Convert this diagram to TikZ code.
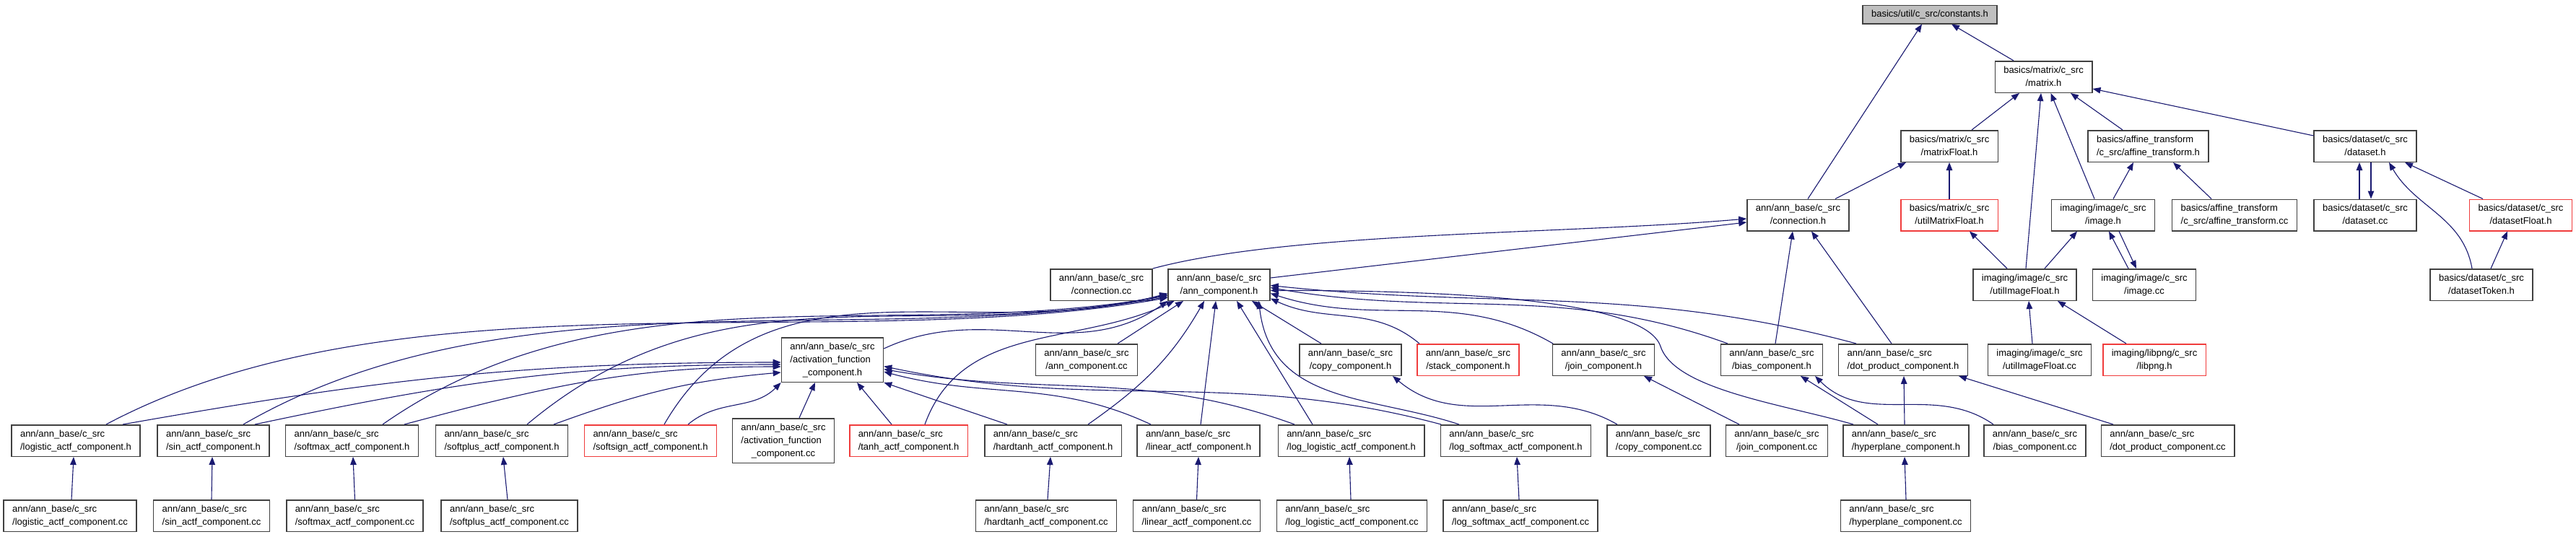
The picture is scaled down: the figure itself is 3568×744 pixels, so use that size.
\documentclass[tikz,border=0pt]{standalone}
\usepackage{fontspec}
\setmainfont{Liberation Sans}
\usetikzlibrary{arrows.meta}
\definecolor{doxblue}{HTML}{191970}
\definecolor{doxred}{HTML}{F03C3C}
\definecolor{doxgray}{HTML}{BFBFBF}
\definecolor{doxline}{HTML}{404040}
\newcommand{\flbl}[2]{\begin{tabular}{@{}l@{}}#1\\\multicolumn{1}{@{}c@{}}{#2}\end{tabular}}
\newcommand{\flblt}[3]{\begin{tabular}{@{}l@{}}#1\\#2\\\multicolumn{1}{@{}c@{}}{#3}\end{tabular}}
\newcommand{\annlbl}[1]{\flbl{ann/ann\_base/c\_src}{#1}}

\begin{document}
\begin{tikzpicture}[x=1pt,y=1pt,
  hfile/.style={draw=doxline,line width=1.5pt,fill=white,inner xsep=12pt,inner ysep=3.75pt,
                font=\fontsize{13}{18}\selectfont},
  trunc/.style={hfile,draw=doxred},
  rootfile/.style={hfile,fill=doxgray},
  dep/.style={-{Triangle[length=11pt,width=8.5pt]},draw=doxblue,line width=1.1pt}
]
  \useasboundingbox (0,0) rectangle (3568,-744);
  \node[rootfile] (constants) at (2673,-20) {\strut basics/util/c\_src/constants.h};
  \node[hfile] (matrix) at (2830.5,-106.5) {\flbl{basics/matrix/c\_src}{/matrix.h}};
  \node[hfile] (matrixfloat) at (2700,-202.5) {\flbl{basics/matrix/c\_src}{/matrixFloat.h}};
  \node[hfile] (affineh) at (2975.5,-202.5) {\flbl{basics/affine\_transform}{/c\_src/affine\_transform.h}};
  \node[hfile] (dataseth) at (3276,-202.5) {\flbl{basics/dataset/c\_src}{/dataset.h}};
  \node[hfile] (connh) at (2490.5,-298) {\annlbl{/connection.h}};
  \node[trunc] (utilmatrix) at (2700,-298) {\flbl{basics/matrix/c\_src}{/utilMatrixFloat.h}};
  \node[hfile] (imageh) at (2913,-298) {\flbl{imaging/image/c\_src}{/image.h}};
  \node[hfile] (affinecc) at (3095,-298) {\flbl{basics/affine\_transform}{/c\_src/affine\_transform.cc}};
  \node[hfile] (datasetcc) at (3276,-298) {\flbl{basics/dataset/c\_src}{/dataset.cc}};
  \node[trunc] (datasetfloat) at (3491.5,-298) {\flbl{basics/dataset/c\_src}{/datasetFloat.h}};
  \node[hfile] (connectioncc) at (1525.5,-394.5) {\annlbl{/connection.cc}};
  \node[hfile] (annh) at (1688.5,-394.5) {\annlbl{/ann\_component.h}};
  \node[hfile] (utilimage) at (2804.5,-394.5) {\flbl{imaging/image/c\_src}{/utilImageFloat.h}};
  \node[hfile] (imagecc) at (2970,-394.5) {\flbl{imaging/image/c\_src}{/image.cc}};
  \node[hfile] (datasettoken) at (3437,-394.5) {\flbl{basics/dataset/c\_src}{/datasetToken.h}};
  \node[hfile] (actfh) at (1153,-498.5) {\flblt{ann/ann\_base/c\_src}{/activation\_function}{\_component.h}};
  \node[hfile] (anncc) at (1505,-498.5) {\annlbl{/ann\_component.cc}};
  \node[hfile] (copyh) at (1870.5,-498.5) {\annlbl{/copy\_component.h}};
  \node[trunc] (stackh) at (2033.5,-498.5) {\annlbl{/stack\_component.h}};
  \node[hfile] (joinh) at (2221,-498.5) {\annlbl{/join\_component.h}};
  \node[hfile] (biash) at (2454,-498.5) {\annlbl{/bias\_component.h}};
  \node[hfile] (doth) at (2636,-498.5) {\annlbl{/dot\_product\_component.h}};
  \node[hfile] (utilimagecc) at (2825,-498.5) {\flbl{imaging/image/c\_src}{/utilImageFloat.cc}};
  \node[trunc] (libpng) at (2984,-498.5) {\flbl{imaging/libpng/c\_src}{/libpng.h}};
  \node[hfile] (logistich) at (105,-610.5) {\annlbl{/logistic\_actf\_component.h}};
  \node[hfile] (sinh) at (295.5,-610.5) {\annlbl{/sin\_actf\_component.h}};
  \node[hfile] (softmaxh) at (487.5,-610.5) {\annlbl{/softmax\_actf\_component.h}};
  \node[hfile] (softplush) at (695,-610.5) {\annlbl{/softplus\_actf\_component.h}};
  \node[trunc] (softsignh) at (901,-610.5) {\annlbl{/softsign\_actf\_component.h}};
  \node[hfile] (actfcc) at (1085,-610.5) {\flblt{ann/ann\_base/c\_src}{/activation\_function}{\_component.cc}};
  \node[trunc] (tanhh) at (1258.5,-610.5) {\annlbl{/tanh\_actf\_component.h}};
  \node[hfile] (hardtanhh) at (1458.5,-610.5) {\annlbl{/hardtanh\_actf\_component.h}};
  \node[hfile] (linearh) at (1660,-610.5) {\annlbl{/linear\_actf\_component.h}};
  \node[hfile] (loglogh) at (1871.5,-610.5) {\annlbl{/log\_logistic\_actf\_component.h}};
  \node[hfile] (logsofth) at (2099.5,-610.5) {\annlbl{/log\_softmax\_actf\_component.h}};
  \node[hfile] (copycc) at (2297.5,-610.5) {\annlbl{/copy\_component.cc}};
  \node[hfile] (joincc) at (2461,-610.5) {\annlbl{/join\_component.cc}};
  \node[hfile] (hyperh) at (2640,-610.5) {\annlbl{/hyperplane\_component.h}};
  \node[hfile] (biascc) at (2818.5,-610.5) {\annlbl{/bias\_component.cc}};
  \node[hfile] (dotcc) at (3002.5,-610.5) {\annlbl{/dot\_product\_component.cc}};
  \node[hfile] (logisticcc) at (97,-714.5) {\annlbl{/logistic\_actf\_component.cc}};
  \node[hfile] (sincc) at (293,-714.5) {\annlbl{/sin\_actf\_component.cc}};
  \node[hfile] (softmaxcc) at (491.5,-714.5) {\annlbl{/softmax\_actf\_component.cc}};
  \node[hfile] (softpluscc) at (705.5,-714.5) {\annlbl{/softplus\_actf\_component.cc}};
  \node[hfile] (hardtanhcc) at (1449,-714.5) {\annlbl{/hardtanh\_actf\_component.cc}};
  \node[hfile] (linearcc) at (1657.5,-714.5) {\annlbl{/linear\_actf\_component.cc}};
  \node[hfile] (loglogcc) at (1872.5,-714.5) {\annlbl{/log\_logistic\_actf\_component.cc}};
  \node[hfile] (logsoftcc) at (2106,-714.5) {\annlbl{/log\_softmax\_actf\_component.cc}};
  \node[hfile] (hypercc) at (2639.5,-714.5) {\annlbl{/hyperplane\_component.cc}};

  \draw[dep] ([xshift=-41.5pt]matrix.north) -- ([xshift=30pt]constants.south);
  \draw[dep] ([xshift=13.5pt]connh.north) -- ([xshift=-11pt]constants.south);
  \draw[dep] ([xshift=31pt]matrixfloat.north) -- ([xshift=-33.5pt]matrix.south);
  \draw[dep] ([xshift=1.5pt]utilimage.north) -- ([xshift=-3.5pt]matrix.south);
  \draw[dep] ([xshift=-12pt]imageh.north) -- ([xshift=10pt]matrix.south);
  \draw[dep] ([xshift=-35.5pt]affineh.north) -- ([xshift=37.5pt]matrix.south);
  \draw[dep] ([yshift=14.5pt]dataseth.west) -- ([yshift=-16.5pt]matrix.east);
  \draw[dep] ([xshift=51.5pt]connh.north) -- ([xshift=-60pt]matrixfloat.south);
  \draw[dep] (utilmatrix.north) -- (matrixfloat.south);
  \draw[dep] ([xshift=14pt]imageh.north) -- ([xshift=-20.5pt]affineh.south);
  \draw[dep] ([xshift=-32pt]affinecc.north) -- ([xshift=34.5pt]affineh.south);
  \draw[dep] ([xshift=-8pt]datasetcc.north) -- ([xshift=-8pt]dataseth.south);
  \draw[dep] ([xshift=8pt]dataseth.south) -- ([xshift=8pt]datasetcc.north);
  \draw[dep] ([xshift=-13pt]datasettoken.north) to[out=100,in=-60] ([xshift=33pt]dataseth.south);
  \draw[dep] ([xshift=-52.5pt]datasetfloat.north) -- ([xshift=55pt]dataseth.south);
  \draw[dep] ([xshift=13pt]datasettoken.north) -- ([xshift=-18.5pt]datasetfloat.south);
  \draw[dep] ([xshift=-24.5pt]utilimage.north) -- ([xshift=28pt]utilmatrix.south);
  \draw[dep] ([xshift=27.5pt]utilimage.north) -- ([xshift=-36pt]imageh.south);
  \draw[dep] ([xshift=-22pt]imagecc.north) -- ([xshift=8pt]imageh.south);
  \draw[dep] ([xshift=22pt]imageh.south) -- ([xshift=-11pt]imagecc.north);
  \draw[dep] ([xshift=-10pt]utilimagecc.north) -- ([xshift=5.5pt]utilimage.south);
  \draw[dep] ([xshift=-39pt]libpng.north) -- ([xshift=45.5pt]utilimage.south);
  \draw[dep] (connectioncc.north east) .. controls +(15:200) and +(185:250) .. ([yshift=-5pt]connh.west);
  \draw[dep] ([yshift=9.5pt]annh.east) -- ([yshift=-10pt]connh.west);
  \draw[dep] ([xshift=5pt]biash.north) -- ([xshift=-7.5pt]connh.south);
  \draw[dep] ([xshift=-16pt]doth.north) -- ([xshift=18.5pt]connh.south);

  \draw[dep] ([yshift=15.5pt]actfh.east) to[out=25,in=215] (annh.south west);
  \draw[dep] ([xshift=43pt]anncc.north) -- ([xshift=-49.5pt]annh.south);
  \draw[dep] ([xshift=-40.5pt]copyh.north) -- ([xshift=45.5pt]annh.south);
  \draw[dep] ([xshift=-67.5pt]stackh.north) to[out=140,in=-25] ([yshift=-19pt]annh.east);
  \draw[dep] ([xshift=-70pt]joinh.north) to[out=150,in=-18] ([yshift=-12pt]annh.east);
  \draw[dep] ([xshift=-61pt]biash.north) .. controls +(160:246) and +(-10:246) .. ([yshift=-4pt]annh.east);
  \draw[dep] ([xshift=-65pt]doth.north) .. controls +(165:316) and +(-6:316) .. ([yshift=-1pt]annh.east);
  \draw[dep] ([xshift=-73pt]hyperh.north) .. controls (2470,-560) and (2320,-540) .. (2300,-480)
    .. controls (2280,-420) and (2050,-402) .. ([yshift=-8pt]annh.east);
  \draw[dep] ([xshift=-78.5pt]logsofth.north) .. controls (1900,-548) and (1760,-560) .. ([xshift=55pt]annh.south);
  \draw[dep] ([xshift=-53.5pt]loglogh.north) -- ([xshift=24.5pt]annh.south);
  \draw[dep] ([xshift=3pt]linearh.north) -- ([xshift=-4.5pt]annh.south);
  \draw[dep] ([xshift=48.5pt]hardtanhh.north) to[out=35,in=-120] ([xshift=-20.5pt]annh.south);
  \draw[dep] ([xshift=22.5pt]tanhh.north) to[out=70,in=205] ([xshift=-62pt]annh.south);
  \draw[dep] ([xshift=42pt]logistich.north) .. controls +(28:464) and +(190:464) .. ([yshift=-18pt]annh.west);
  \draw[dep] ([xshift=41.5pt]sinh.north) .. controls +(30:431) and +(190:431) .. ([yshift=-16.5pt]annh.west);
  \draw[dep] ([xshift=42.5pt]softmaxh.north) .. controls +(35:389) and +(190:389) .. ([yshift=-15pt]annh.west);
  \draw[dep] ([xshift=35pt]softplush.north) .. controls +(40:355) and +(192:355) .. ([yshift=-13.5pt]annh.west);
  \draw[dep] ([xshift=19pt]softsignh.north) .. controls +(60:283) and +(195:283) .. ([yshift=-12pt]annh.west);

  \draw[dep] ([xshift=65pt]logistich.north) .. controls +(10:359) and +(180:359) .. ([yshift=-3.5pt]actfh.west);
  \draw[dep] ([xshift=57.5pt]sinh.north) .. controls +(12:288) and +(180:288) .. ([yshift=-6.5pt]actfh.west);
  \draw[dep] ([xshift=72.5pt]softmaxh.north) .. controls +(15:207) and +(180:207) .. ([yshift=-9.5pt]actfh.west);
  \draw[dep] ([xshift=72pt]softplush.north) .. controls +(20:127) and +(185:127) .. ([yshift=-17.5pt]actfh.west);
  \draw[dep] ([xshift=52pt]softsignh.north) to[out=40,in=225] (actfh.south west);
  \draw[dep] ([xshift=22pt]actfcc.north) -- ([xshift=-24pt]actfh.south);
  \draw[dep] ([xshift=-23.5pt]tanhh.north) -- ([xshift=34pt]actfh.south);
  \draw[dep] ([xshift=-63.5pt]hardtanhh.north) -- (actfh.south east);
  \draw[dep] ([xshift=-66pt]linearh.north) .. controls +(155:149) and +(-15:149) .. ([yshift=-16.5pt]actfh.east);
  \draw[dep] ([xshift=-78.5pt]loglogh.north) .. controls +(160:224) and +(-10:224) .. ([yshift=-13pt]actfh.east);
  \draw[dep] ([xshift=-103.5pt]logsofth.north) .. controls +(165:303) and +(-12:303) .. ([yshift=-9pt]actfh.east);

  \draw[dep] ([xshift=-57.5pt]copycc.north) to[out=150,in=-40] ([xshift=58.5pt]copyh.south);
  \draw[dep] ([xshift=-52pt]joincc.north) -- ([xshift=56pt]joinh.south);
  \draw[dep] ([xshift=-39pt]hyperh.north) -- ([xshift=40pt]biash.south);
  \draw[dep] ([xshift=-2pt]hyperh.north) -- ([xshift=1pt]doth.south);
  \draw[dep] ([xshift=-57.5pt]biascc.north) to[out=145,in=-45] ([xshift=60pt]biash.south);
  \draw[dep] ([xshift=-75.5pt]dotcc.north) -- ([xshift=77pt]doth.south);

  \draw[dep] ([xshift=2pt]logisticcc.north) -- ([xshift=-3pt]logistich.south);
  \draw[dep] (sincc.north) -- ([xshift=-1.5pt]sinh.south);
  \draw[dep] (softmaxcc.north) -- ([xshift=1.5pt]softmaxh.south);
  \draw[dep] ([xshift=-2.5pt]softpluscc.north) -- ([xshift=2pt]softplush.south);
  \draw[dep] ([xshift=2pt]hardtanhcc.north) -- ([xshift=-3.5pt]hardtanhh.south);
  \draw[dep] (linearcc.north) -- (linearh.south);
  \draw[dep] ([xshift=-1.5pt]loglogcc.north) -- ([xshift=-2.5pt]loglogh.south);
  \draw[dep] ([xshift=-2pt]logsoftcc.north) -- ([xshift=1.5pt]logsofth.south);
  \draw[dep] ([xshift=0.5pt]hypercc.north) -- ([xshift=-2pt]hyperh.south);
\end{tikzpicture}
\end{document}
